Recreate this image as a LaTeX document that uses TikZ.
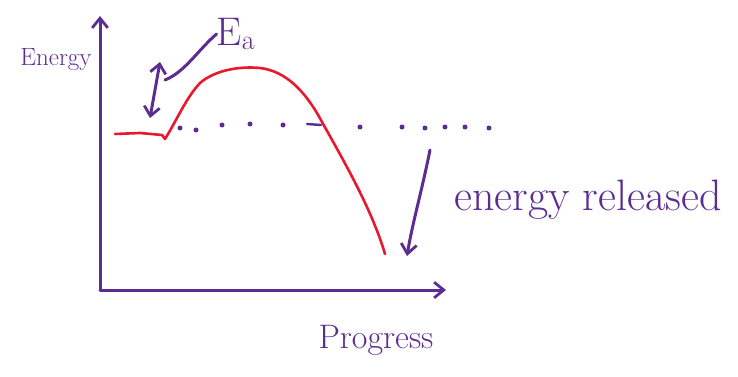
\documentclass[tikz,border=0pt]{standalone}
\usepackage{fontspec}
\usepackage{tikz}
\usetikzlibrary{arrows.meta,positioning,calc}
\definecolor{ink}{HTML}{5B2C92}
\definecolor{curve}{HTML}{E8192C}
\tikzset{
  pen/.style={draw=ink,line width=3pt,line cap=round,line join=round},
  barb/.style={-{Straight Barb[length=3.4mm,width=5.5mm,line width=2.8pt]}},
  profile/.style={draw=curve,line width=2.6pt,line cap=round,line join=round},
  dot/.style={circle,fill=ink,inner sep=0pt,minimum size=5pt},
  handtext/.style={text=ink,inner sep=0pt}
}
\begin{document}
\begin{tikzpicture}[x=1pt,y=-1pt]
  \useasboundingbox (0,0) rectangle (738,377);
  % axes
  \coordinate (O) at (100,290);
  \coordinate (ytop) at (100,16);
  \coordinate (xend) at (446,290);
  \draw[pen,barb] (O) -- (ytop);
  \draw[pen,barb] (O) -- (xend);
  % labels
  \node[handtext,font=\fontsize{25}{28}\selectfont] (energy) at (56,60) {Energy};
  \node[handtext,font=\fontsize{34}{38}\selectfont] (progress) at (376,340) {Progress};
  \node[handtext,font=\fontsize{40}{44}\selectfont] (ea) at (236,34) {E\textsubscript{a}};
  \node[handtext,font=\fontsize{44}{48}\selectfont] (released) at (588,200) {energy released};
  % reaction profile
  \draw[profile] (115,134) -- (140,133) -- (162,135) -- (165,139)
    .. controls (178,118) and (186,98) .. (200,83)
    .. controls (215,70) and (240,66) .. (260,68)
    .. controls (285,71) and (305,90) .. (322,122)
    .. controls (345,163) and (372,210) .. (385,254);
  % dotted level of the products
  \foreach \dx/\dy in {180/128,196/130,222/125,250/124,283/125,360/127,402/127,425/128,445/127,465/127,489/128}
    \node[dot] at (\dx,\dy) {};
  \draw[pen,line width=2.4pt] (307,124) -- (321,125);
  % activation energy
  \coordinate (eatop) at (160,62);
  \coordinate (eabot) at (150,118);
  \draw[pen,{Straight Barb[length=3.2mm,width=5.5mm,line width=2.8pt]}-{Straight Barb[length=3.2mm,width=5.5mm,line width=2.8pt]}] (eabot) -- (eatop);
  \coordinate (eaend) at (165,80);
  \draw[pen] (eaend) .. controls (185,72) and (198,50) .. (ea.west);
  % energy released arrow
  \coordinate (reltop) at (430,150);
  \coordinate (relbot) at (407,256);
  \draw[pen,barb] (reltop) .. controls (422,190) and (412,225) .. (relbot);
\end{tikzpicture}
\end{document}
